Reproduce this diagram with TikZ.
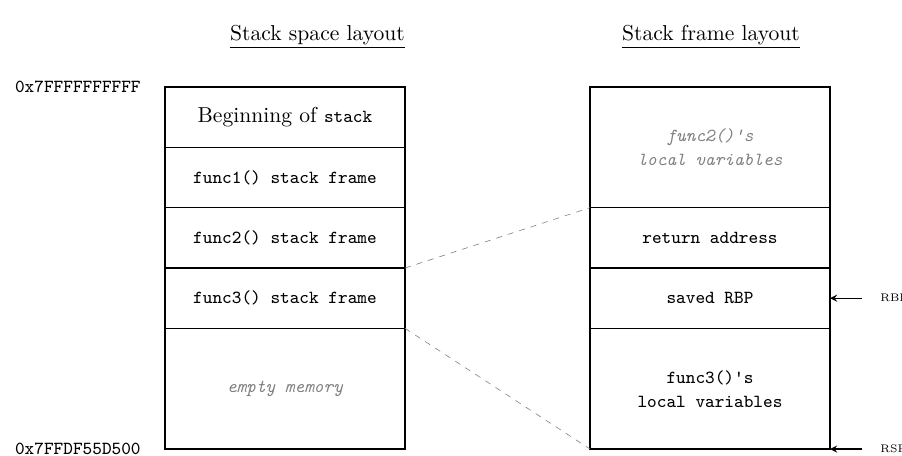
\documentclass[tikz,border=0pt]{standalone}
\usetikzlibrary{positioning}
\begin{document}
\begin{tikzpicture}[x=0.5pt,y=-0.5pt,
  cell/.style={draw,line width=0.6pt,minimum width=120pt,inner sep=0pt,outer sep=0pt,
    align=center,font=\fontsize{9.2}{12}\ttfamily},
  one/.style={cell,minimum height=30.17pt},
  two/.style={cell,minimum height=60.33pt},
  faded/.style={text=gray,font=\fontsize{9.2}{12}\ttfamily\itshape},
  title/.style={font=\fontsize{10.8}{12}\selectfont},
  addr/.style={anchor=west,font=\fontsize{9.2}{11}\ttfamily},
  ptr/.style={font=\fontsize{5.5}{6}\selectfont,anchor=west,inner sep=0pt},
  guide/.style={dashed,gray,line width=0.3pt},
  pointer/.style={->,>=stealth,line width=0.6pt}]
\useasboundingbox (0,0) rectangle (902,456);

% titles
\node[title] (t1) at (317.5,37) {\underline{Stack space layout}};
\node[title] (t2) at (711,37) {\underline{Stack frame layout}};

% stack space column
\node[one,anchor=north] (beg) at (285,87) {{\rmfamily\fontsize{10.8}{12}\selectfont Beginning of }stack};
\node[one,below=0pt of beg] (f1) {func1() stack frame};
\node[one,below=0pt of f1] (f2) {func2() stack frame};
\node[one,below=0pt of f2] (f3) {func3() stack frame};
\node[two,below=0pt of f3] (empty) {\textcolor{gray}{\itshape empty memory}};

% stack frame column
\node[two,anchor=north,faded] (loc2) at (710,87) {func2()'s\\local variables};
\node[one,below=0pt of loc2] (ret) {return address};
\node[one,below=0pt of ret] (rbp) {saved RBP};
\node[two,below=0pt of rbp] (loc3) {func3()'s\\local variables};

% addresses
\node[addr] (top) at (8,87) {0x7FFFFFFFFFF};
\node[addr] (bot) at (8,449) {0x7FFDF55D500};

% zoom guides
\draw[guide] (f3.north east) -- (ret.north west);
\draw[guide] (f3.south east) -- (loc3.south west);

% register pointers
\coordinate[right=16pt of rbp.east] (rbpc);
\coordinate[right=16pt of loc3.south east] (rspc);
\draw[pointer] (rbpc) -- (rbp.east);
\draw[pointer] (rspc) -- (loc3.south east);
\node[ptr,right=9pt of rbpc] (rbpl) {RBP};
\node[ptr,right=9pt of rspc] (rspl) {RSP};
\end{tikzpicture}
\end{document}
